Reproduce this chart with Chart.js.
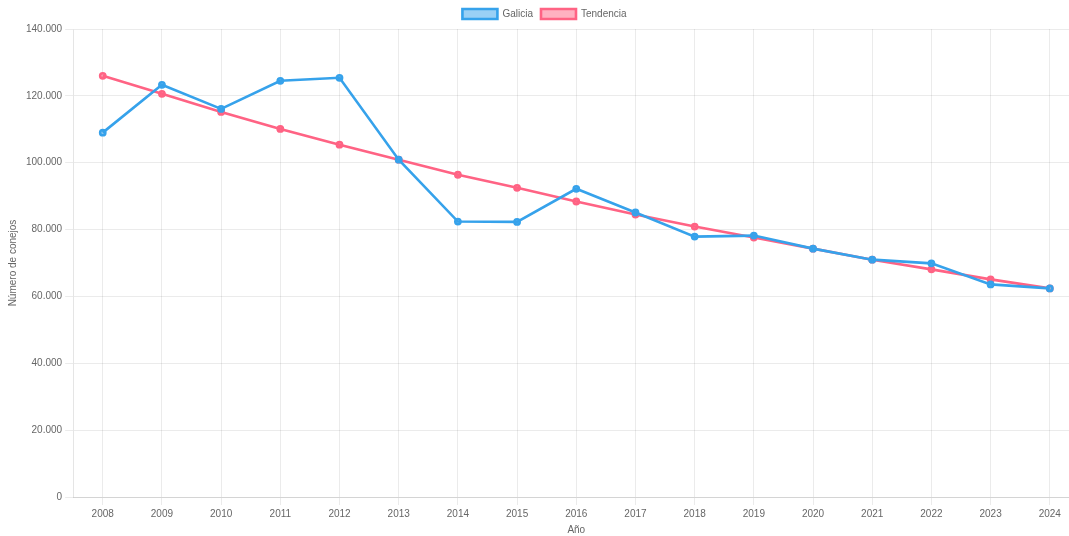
<!DOCTYPE html>
<html>
<head>
<meta charset="utf-8">
<script src="https://cdn.jsdelivr.net/npm/chart.js@4.4.1/dist/chart.umd.min.js"></script>
<style>
  html, body { margin: 0; padding: 0; background: #fff; overflow: hidden; }
  #wrap { width: 1086px; height: 536px; position: relative; }
</style>
</head>
<body>
<div id="wrap"><canvas id="chart"></canvas></div>
<script>
// Rabbit counts in Galicia per year, with the fitted trend
const years = ['2008','2009','2010','2011','2012','2013','2014','2015','2016','2017','2018','2019','2020','2021','2022','2023','2024'];
const galicia = [109000, 123300, 116100, 124500, 125400, 100900, 82400, 82300, 92200, 85100, 77900, 78200, 74300, 71000, 69900, 63600, 62400];
const tendencia = [126000, 120600, 115200, 110100, 105400, 100900, 96400, 92500, 88400, 84500, 80900, 77600, 74300, 71000, 68100, 65100, 62400];

const blue = 'rgb(54, 162, 235)';
const red = 'rgb(255, 99, 132)';

Chart.defaults.font.family = "'Liberation Sans', Arial, Helvetica, sans-serif";
Chart.defaults.font.size = 10;
Chart.defaults.color = '#666';

new Chart(document.getElementById('chart'), {
  type: 'line',
  data: {
    labels: years,
    datasets: [
      {
        label: 'Galicia',
        data: galicia,
        borderColor: blue,
        backgroundColor: 'rgba(54, 162, 235, 0.5)',
        borderWidth: 2.6,
        pointRadius: 2.6,
        pointBackgroundColor: 'rgba(54, 162, 235, 0.5)',
        tension: 0
      },
      {
        label: 'Tendencia',
        data: tendencia,
        borderColor: red,
        backgroundColor: 'rgba(255, 99, 132, 0.5)',
        borderWidth: 2.6,
        pointRadius: 2.6,
        pointBackgroundColor: 'rgba(255, 99, 132, 0.5)',
        tension: 0
      }
    ]
  },
  options: {
    responsive: true,
    maintainAspectRatio: false,
    animation: false,
    layout: { padding: { left: 3, right: 0, top: 1, bottom: 0 } },
    plugins: {
      legend: {
        position: 'top',
        labels: { boxWidth: 35, boxHeight: 10, padding: 8 }
      },
      tooltip: { enabled: false }
    },
    scales: {
      x: {
        offset: true,
        title: { display: true, text: 'Año', padding: { top: 1, bottom: 0 } },
        grid: { color: 'rgba(0,0,0,0.08)', offset: false }
      },
      y: {
        min: 0,
        max: 140000,
        ticks: {
          stepSize: 20000,
          callback: v => v.toLocaleString('de-DE')
        },
        title: { display: true, text: 'Número de conejos' },
        grid: { color: 'rgba(0,0,0,0.08)' }
      }
    }
  }
});
</script>
</body>
</html>
